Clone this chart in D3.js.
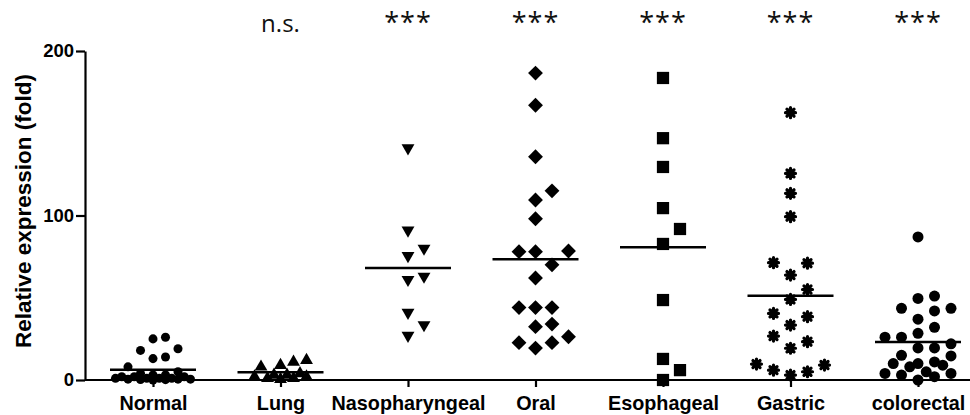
<!DOCTYPE html>
<html>
<head>
<meta charset="utf-8">
<script src="https://cdn.jsdelivr.net/npm/d3@7"></script>
<style>
body{margin:0;background:#fff;}
text{font-family:"Liberation Sans",Arial,sans-serif;}
</style>
</head>
<body>
<svg width="970" height="415"></svg>
<script>
// groups on the x axis and the significance mark above each one
var categories = ["Normal", "Lung", "Nasopharyngeal", "Oral", "Esophageal", "Gastric", "colorectal"];
var significance = ["", "n.s.", "***", "***", "***", "***", "***"];
var yTicks = [0, 100, 200];

// relative expression (fold)
var normalValues = [26, 25, 19, 18, 14, 13, 8, 5, 4, 3, 3, 2, 2, 2, 1, 1, 1, 1, 0.5, 0.5, 0.5, 0.3, 0.2, 0];
var lungValues = [12, 11, 9, 8, 4, 3, 3, 2, 2, 1, 1, 0.5];
var nasoValues = [141, 91, 80, 75.5, 63, 61, 41, 33.5, 27];
var oralValues = [186.6, 167, 135.7, 115, 109.4, 98, 78, 78, 78.4, 70, 62, 44, 44, 44, 34, 32.4, 22.7, 22.7, 19.4, 26.3];
var esoValues = [183.6, 147, 129.5, 104.5, 91.8, 82.7, 48.6, 12.8, 6, 0];
var gastricValues = [162.5, 125.6, 113.5, 99.3, 71.3, 71, 63.8, 55, 49, 40.5, 38.5, 33.4, 26.7, 23.3, 19.3, 9.7, 9.1, 5, 6, 3];
var colorectalValues = [87, 51, 49.6, 43.6, 43.6, 42, 37, 32, 28.4, 26, 26, 22, 19.5, 19.5, 15, 14.6,
                        11, 10, 10, 9, 8, 5, 4, 4, 3, 2, 0];

var seriesValues = [normalValues, lungValues, nasoValues, oralValues, esoValues, gastricValues, colorectalValues];

// 8-armed asterisk marker
var symbolStar8 = {
    draw: function(ctx, size){
        var r = Math.sqrt(size) / 2;
        for (var i = 0; i < 4; i++){
            var a = i * Math.PI / 4;
            ctx.moveTo(r * Math.cos(a), r * Math.sin(a));
            ctx.lineTo(-r * Math.cos(a), -r * Math.sin(a));
        }
    }
};

var markers = [
    {type: d3.symbolCircle,   size: 64,  rot: 0,   step: 12.5, dist: 10, max: 40},
    {type: d3.symbolTriangle, size: 72,  rot: 0,   step: 13,   dist: 11, max: 38},
    {type: d3.symbolTriangle, size: 72,  rot: 180, step: 16,   dist: 13, max: 40},
    {type: d3.symbolSquare,   size: 110, rot: 45,  step: 16.5, dist: 15, max: 40},
    {type: d3.symbolSquare,   size: 150, rot: 0,   step: 17,   dist: 16, max: 40},
    {type: symbolStar8,       size: 100, rot: 0,   step: 17,   dist: 13, max: 36, stroke: true},
    {type: d3.symbolCircle,   size: 95,  rot: 0,   step: 16.5, dist: 12, max: 34}
];

function main(){
    var svg = d3.select("svg");

    var xScale = d3.scalePoint().domain(categories).range([153, 918]),
        yScale = d3.scaleLinear().domain([0, 200]).range([380, 51]);

    // y axis
    var yAxis = svg.append("g").attr("transform", "translate(85,0)")
        .call(d3.axisLeft(yScale).tickValues(yTicks).tickSize(9).tickSizeOuter(0).tickPadding(2));
    yAxis.select(".domain").attr("stroke-width", 2.2);
    yAxis.selectAll(".tick line").attr("stroke-width", 2.2);
    yAxis.selectAll(".tick text").attr("font-size", 18.5).attr("font-weight", "bold").attr("fill", "#000");

    // x axis
    var xAxis = svg.append("g").attr("transform", "translate(0,380)")
        .call(d3.axisBottom(xScale).tickSize(7).tickSizeOuter(0).tickPadding(7));
    xAxis.select(".domain").attr("d", "M85,0H970").attr("stroke-width", 2.2);
    xAxis.selectAll(".tick line").attr("stroke-width", 2.2);
    xAxis.selectAll(".tick text").attr("font-size", 19.8).attr("font-weight", "bold").attr("fill", "#000")
        .attr("dy", "0.8em");

    svg.append("text")
        .attr("transform", "translate(31,211) rotate(-90)")
        .attr("text-anchor", "middle")
        .attr("font-size", 22.5).attr("font-weight", "bold")
        .text("Relative expression (fold)");

    // column scatter: spread points sideways when they would overlap
    function swarm(values, m){
        var placed = [];
        var cands = [0];
        for (var k = 1; k * m.step <= m.max + 0.01; k++) cands.push(k * m.step, -k * m.step);
        for (var k = 0; (k + 0.5) * m.step <= m.max; k++) cands.push((k + 0.5) * m.step, -(k + 0.5) * m.step);
        values.slice().sort(d3.ascending).forEach(function(v){
            var py = yScale(v), best = 0, bestD = -1;
            for (var i = 0; i < cands.length; i++){
                var dx = cands[i], near = Infinity;
                placed.forEach(function(p){
                    var d = Math.hypot(p.dx - dx, p.py - py);
                    if (d < near) near = d;
                });
                if (near >= m.dist){ best = dx; break; }
                if (near > bestD + 0.5){ bestD = near; best = dx; }
            }
            placed.push({v: v, dx: best, py: py});
        });
        return placed;
    }

    categories.forEach(function(cat, i){
        var m = markers[i];
        var pts = swarm(seriesValues[i], m);
        var cx = xScale(cat);
        var sym = d3.symbol().type(m.type).size(m.size);

        svg.append("g").selectAll("path")
            .data(pts)
            .enter().append("path")
            .attr("d", sym)
            .attr("transform", function(d){ return "translate(" + (cx + d.dx) + "," + d.py + ") rotate(" + m.rot + ")"; })
            .attr("fill", m.stroke ? "none" : "#000")
            .attr("stroke", m.stroke ? "#000" : "none")
            .attr("stroke-width", m.stroke ? 3.2 : 0)
            .attr("stroke-linecap", "round");

        var mean = d3.mean(seriesValues[i]);
        svg.append("line")
            .attr("x1", cx - 43).attr("x2", cx + 43)
            .attr("y1", yScale(mean)).attr("y2", yScale(mean))
            .attr("stroke", "#000").attr("stroke-width", 2.5);

        var sig = significance[i];
        svg.append("text")
            .attr("x", cx).attr("y", 32)
            .attr("text-anchor", "middle")
            .style("font-family", "'Open Sans', sans-serif")
            .attr("font-size", sig === "n.s." ? 24 : 27).attr("fill", "#111")
            .attr("letter-spacing", sig === "n.s." ? 0 : 1)
            .text(sig);
    });
}
main();
</script>
</body>
</html>
